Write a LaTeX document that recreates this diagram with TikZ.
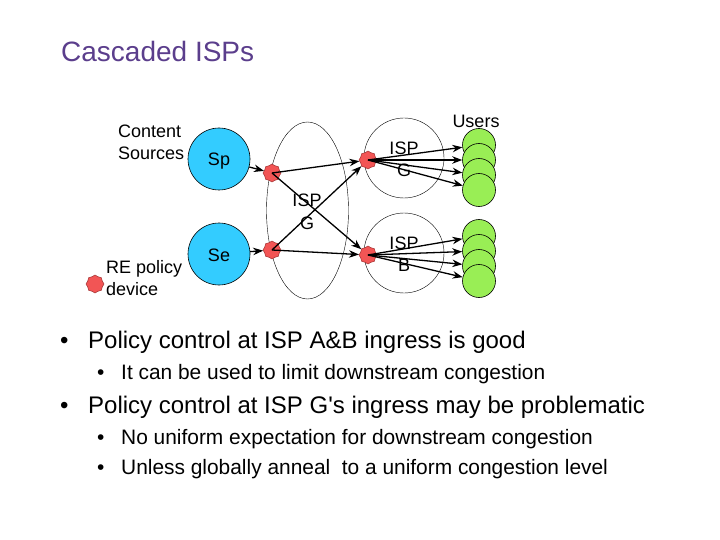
\documentclass[tikz,border=0pt]{standalone}
\usepackage{fontspec}
\setmainfont{Liberation Sans}
\newfontfamily\rawsans{Liberation Sans}
\usetikzlibrary{shapes.geometric,arrows.meta}
\definecolor{titlec}{HTML}{5B3E8C}
\definecolor{bluec}{HTML}{33CCFF}
\definecolor{greenc}{HTML}{99EE55}
\definecolor{redc}{HTML}{F25555}
\definecolor{redb}{HTML}{A03030}
\tikzset{
 src/.style={circle,draw=black,line width=0.6pt,fill=bluec,minimum size=62pt,inner sep=0pt},
 srclab/.style={anchor=base,inner sep=0pt,font=\fontsize{18}{18}\selectfont},
 user/.style={circle,draw=black,line width=0.6pt,fill=greenc,minimum size=33pt,inner sep=0pt},
 dev/.style={star,star points=8,star point ratio=1.15,draw=redb,line width=0.5pt,fill=redc,minimum size=18pt,inner sep=0pt},
 isp/.style={circle,draw=black,line width=0.4pt,minimum size=80pt,inner sep=0pt},
 conn/.style={draw=black,line width=1.3pt,-{Stealth[length=10pt,width=7.5pt]}},
 lab/.style={font=\fontsize{18}{22}\selectfont,align=left,inner sep=0pt},
 clab/.style={font=\fontsize{18}{22.5}\selectfont,align=center,inner sep=0pt},
 big/.style={font=\fontsize{24}{24}\selectfont,anchor=base west,inner sep=0pt},
 small/.style={font=\fontsize{20.9}{21}\selectfont,anchor=base west,inner sep=0pt},
}
\begin{document}
\begin{tikzpicture}[x=1pt,y=-1pt]
\useasboundingbox (0,0) rectangle (720,540);
\node[anchor=base west,inner sep=0pt,text=titlec,font=\fontsize{28}{28}\selectfont] (title) at (61,61.5) {Cascaded ISPs};
\node[ellipse,draw=black,line width=0.4pt,minimum width=82pt,minimum height=177pt,inner sep=0pt] (ispg) at (307.5,210.5) {};
\node[isp] (ispc) at (404,158) {};
\node[isp] (ispb) at (404,253) {};
\node[src] (sp) at (219,159) {};
\node[src] (se) at (219,254) {};
\node[srclab] (tsp) at (219,166) {Sp};
\node[srclab] (tse) at (219,261) {Se};
\node[user] (u1) at (479,145) {};
\node[user] (u2) at (479,160) {};
\node[user] (u3) at (479,175) {};
\node[user] (u4) at (479,190) {};
\node[user] (v1) at (479,236) {};
\node[user] (v2) at (479,251) {};
\node[user] (v3) at (479,266) {};
\node[user] (v4) at (479,281) {};
\node[dev] (a) at (272,173) {};
\node[dev] (b) at (272,250) {};
\node[dev] (c) at (368,160) {};
\node[dev] (d) at (368,255) {};
\node[dev] (leg) at (95,284) {};
\draw[conn] (sp) -- (a);
\draw[conn] (se) -- (b);
\draw[conn] (a.center) -- (c);
\draw[conn] (a.center) -- (d);
\draw[conn] (b.center) -- (c);
\draw[conn] (b.center) -- (d);
\foreach \t in {u1,u2,u3,u4} \draw[conn] (c.center) -- (\t);
\foreach \t in {v1,v2,v3,v4} \draw[conn] (d.center) -- (\t);
\node[clab] (tc) at (404,159.5) {ISP\\G};
\node[clab] (tg) at (307,212) {ISP\\G};
\node[clab] (tb) at (404,254) {ISP\\B};
\node[anchor=base,inner sep=0pt,font=\fontsize{18}{18}\selectfont] (tu) at (476,128) {Users};
\node[lab,anchor=north west] (tcs) at (118,125) {Content\\Sources};
\node[lab,anchor=north west] (tre) at (106,260) {RE policy\\device};
\node[big] (b1) at (60,348) {•};
\node[big] (l1) at (88,348) {Policy control at ISP A\&B ingress is good};
\node[small] (b2) at (97,379) {•};
\node[small] (l2) at (121,379) {It can be used to limit downstream congestion};
\node[big] (b3) at (60,413) {•};
\node[big] (l3) at (88,413) {\rawsans Policy control at ISP G's ingress may be problematic};
\node[small] (b4) at (97,444) {•};
\node[small] (l4) at (121,444) {No uniform expectation for downstream congestion};
\node[small] (b5) at (97,474) {•};
\node[small] (l5) at (121,474) {Unless globally anneal\ \ to a uniform congestion level};
\end{tikzpicture}
\end{document}
